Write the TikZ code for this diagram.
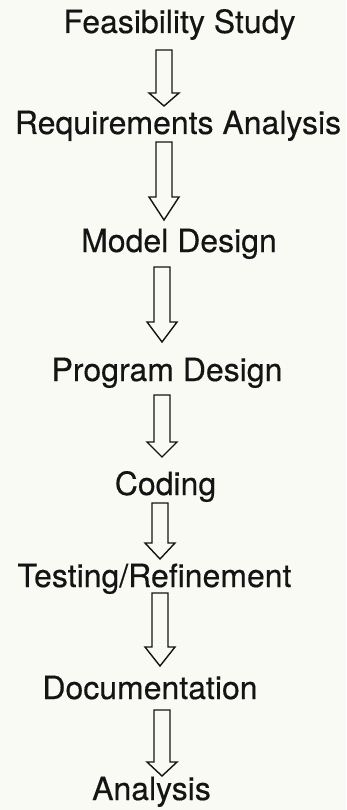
\documentclass[tikz,border=0pt]{standalone}
\usepackage{fontspec}
\setmainfont[FakeBold=0.35]{TeX Gyre Heros}
\usetikzlibrary{calc}
\definecolor{paper}{RGB}{250,250,245}
\definecolor{ink}{RGB}{20,20,20}
\newcommand{\blockarrow}[5]{% name, x, ytop, yhead, ytip
  \coordinate (#1s) at (#2,#3);
  \coordinate (#1t) at (#2,#5);
  \draw[arrowline] ($(#1s)+(-8,0)$) -- ($(#1s)+(8,0)$) -- (#2+8,#4) -- (#2+15,#4)
    -- (#1t) -- (#2-15,#4) -- (#2-8,#4) -- cycle;
}
\begin{document}
\begin{tikzpicture}[x=1pt,y=-1pt,
  stage/.style={anchor=base,inner sep=0pt,text=ink,font=\fontsize{32}{38}\selectfont},
  arrowline/.style={draw=ink,line width=1.4pt,line join=miter}]
\fill[paper] (0,0) rectangle (346,810);
\useasboundingbox (0,0) rectangle (346,810);
\node[stage] (fs) at (179.5,33) {Feasibility Study};
\node[stage] (ra) at (178,134) {Requirements Analysis};
\node[stage] (md) at (179,252) {Model Design};
\node[stage] (pd) at (167,381) {Program Design};
\node[stage] (cd) at (165.5,495) {Coding};
\node[stage] (tr) at (154.5,587) {Testing/Refinement};
\node[stage] (dc) at (150,699) {Documentation};
\node[stage] (an) at (151.5,800) {Analysis};
\blockarrow{a1}{164}{50}{93}{106}
\blockarrow{a2}{164}{142}{197}{220}
\blockarrow{a3}{162}{267}{322}{342}
\blockarrow{a4}{162}{395}{442}{457}
\blockarrow{a5}{160}{503}{543}{559}
\blockarrow{a6}{160}{593}{647}{666}
\blockarrow{a7}{162}{710}{762}{776}
\end{tikzpicture}
\end{document}
